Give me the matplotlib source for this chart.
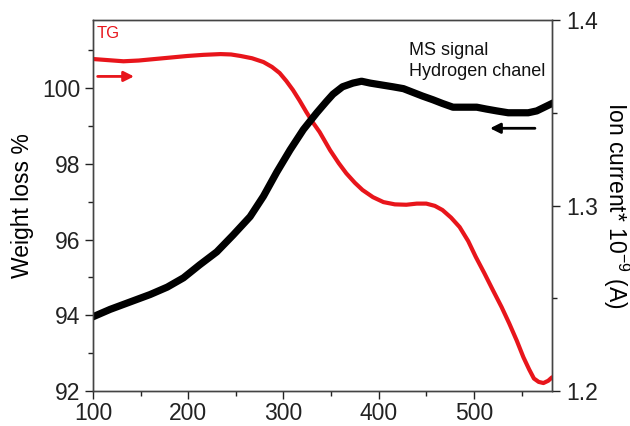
import matplotlib
matplotlib.use('Agg')
import matplotlib.pyplot as plt
from matplotlib.ticker import MultipleLocator

plt.rcParams['font.family'] = ['Liberation Sans', 'DejaVu Sans']
plt.rcParams['mathtext.fontset'] = 'custom'
plt.rcParams['mathtext.rm'] = 'Liberation Sans'

# TG curve (weight loss %)
tg_temp = [100, 116, 132, 148, 165, 182, 199, 216, 234, 245, 255, 267, 279, 288, 296, 303, 310,
           317, 324, 331, 338, 349, 358, 366, 375, 383, 394, 405, 417, 429, 440, 450, 459, 467,
           476, 485, 494, 502, 511, 520, 529, 537, 545, 552, 558, 563, 568, 573, 578, 582]
tg_weight = [100.77, 100.74, 100.71, 100.73, 100.77, 100.81, 100.85, 100.88, 100.90, 100.89,
             100.85, 100.79, 100.69, 100.56, 100.40, 100.19, 99.95, 99.67, 99.37, 99.09, 98.84,
             98.36, 98.02, 97.75, 97.50, 97.31, 97.12, 96.99, 96.93, 96.92, 96.95, 96.95, 96.89,
             96.78, 96.58, 96.33, 95.96, 95.54, 95.11, 94.66, 94.22, 93.79, 93.33, 92.89, 92.57,
             92.33, 92.24, 92.21, 92.27, 92.36]

# MS signal, hydrogen channel (ion current * 1e-9 A)
ms_temp = [100, 118, 139, 160, 178, 195, 212, 230, 247, 265, 279, 293, 307, 321, 335, 345, 352,
           362, 373, 382, 391, 403, 415, 426, 436, 446, 457, 467, 478, 490, 503, 513, 524, 536,
           548, 557, 566, 574, 582]
ms_current = [1.240, 1.244, 1.248, 1.252, 1.256, 1.261, 1.268, 1.275, 1.284, 1.294, 1.305, 1.318,
              1.330, 1.341, 1.350, 1.356, 1.360, 1.364, 1.366, 1.367, 1.366, 1.365, 1.364, 1.363,
              1.361, 1.359, 1.357, 1.355, 1.353, 1.353, 1.353, 1.352, 1.351, 1.350, 1.350, 1.350,
              1.351, 1.353, 1.355]

fig = plt.figure(figsize=(6.3, 4.26), dpi=100)
ax = fig.add_axes([0.1476, 0.0822, 0.7286, 0.8708])
ax2 = ax.twinx()

ax.plot(tg_temp, tg_weight, color='#e8151b', lw=3.0, zorder=3, solid_capstyle='round')
ax2.plot(ms_temp, ms_current, color='black', lw=5.2, zorder=2)

ax.set_xlim(100, 582)
ax.set_ylim(92, 101.8)
ax2.set_ylim(1.2, 1.4)

ax.xaxis.set_major_locator(MultipleLocator(100))
ax.xaxis.set_minor_locator(MultipleLocator(50))
ax.yaxis.set_major_locator(MultipleLocator(2))
ax.yaxis.set_minor_locator(MultipleLocator(1))
ax2.yaxis.set_minor_locator(MultipleLocator(0.05))
ax2.set_yticks([1.2, 1.3, 1.4])
ax2.set_yticklabels(['1.2', '1.3', '1.4'])

for a in (ax, ax2):
    a.tick_params(which='major', direction='out', length=6, width=1, labelsize=16.5, colors='#222222')
    a.tick_params(which='minor', direction='out', length=3.5, width=1, colors='#222222')
    for s in a.spines.values():
        s.set_color('#444444')
        s.set_linewidth(1)
ax.tick_params(axis='x', pad=2)
ax.tick_params(axis='y', pad=3)
ax2.tick_params(axis='y', pad=4)

ax.set_ylabel('Weight loss %', fontsize=16.5, labelpad=6)
ax2.set_ylabel('Ion current* 10$^{-9}$ (A)', fontsize=16.5, rotation=270, labelpad=24)

ax.text(0.008, 0.985, 'TG', transform=ax.transAxes, color='#e8151b', fontsize=12, va='top', ha='left')
ax.text(0.688, 0.94, 'MS signal\nHydrogen chanel', transform=ax.transAxes, fontsize=13,
        va='top', ha='left', linespacing=1.3, color='#111111')

ax.annotate('', xy=(146, 100.31), xytext=(102, 100.31),
            arrowprops=dict(arrowstyle='-|>', color='#e8151b', lw=2, mutation_scale=15))
ax.annotate('', xy=(514, 98.94), xytext=(567, 98.94),
            arrowprops=dict(arrowstyle='-|>', color='black', lw=2, mutation_scale=15))

fig.savefig('out.png', dpi=100)
